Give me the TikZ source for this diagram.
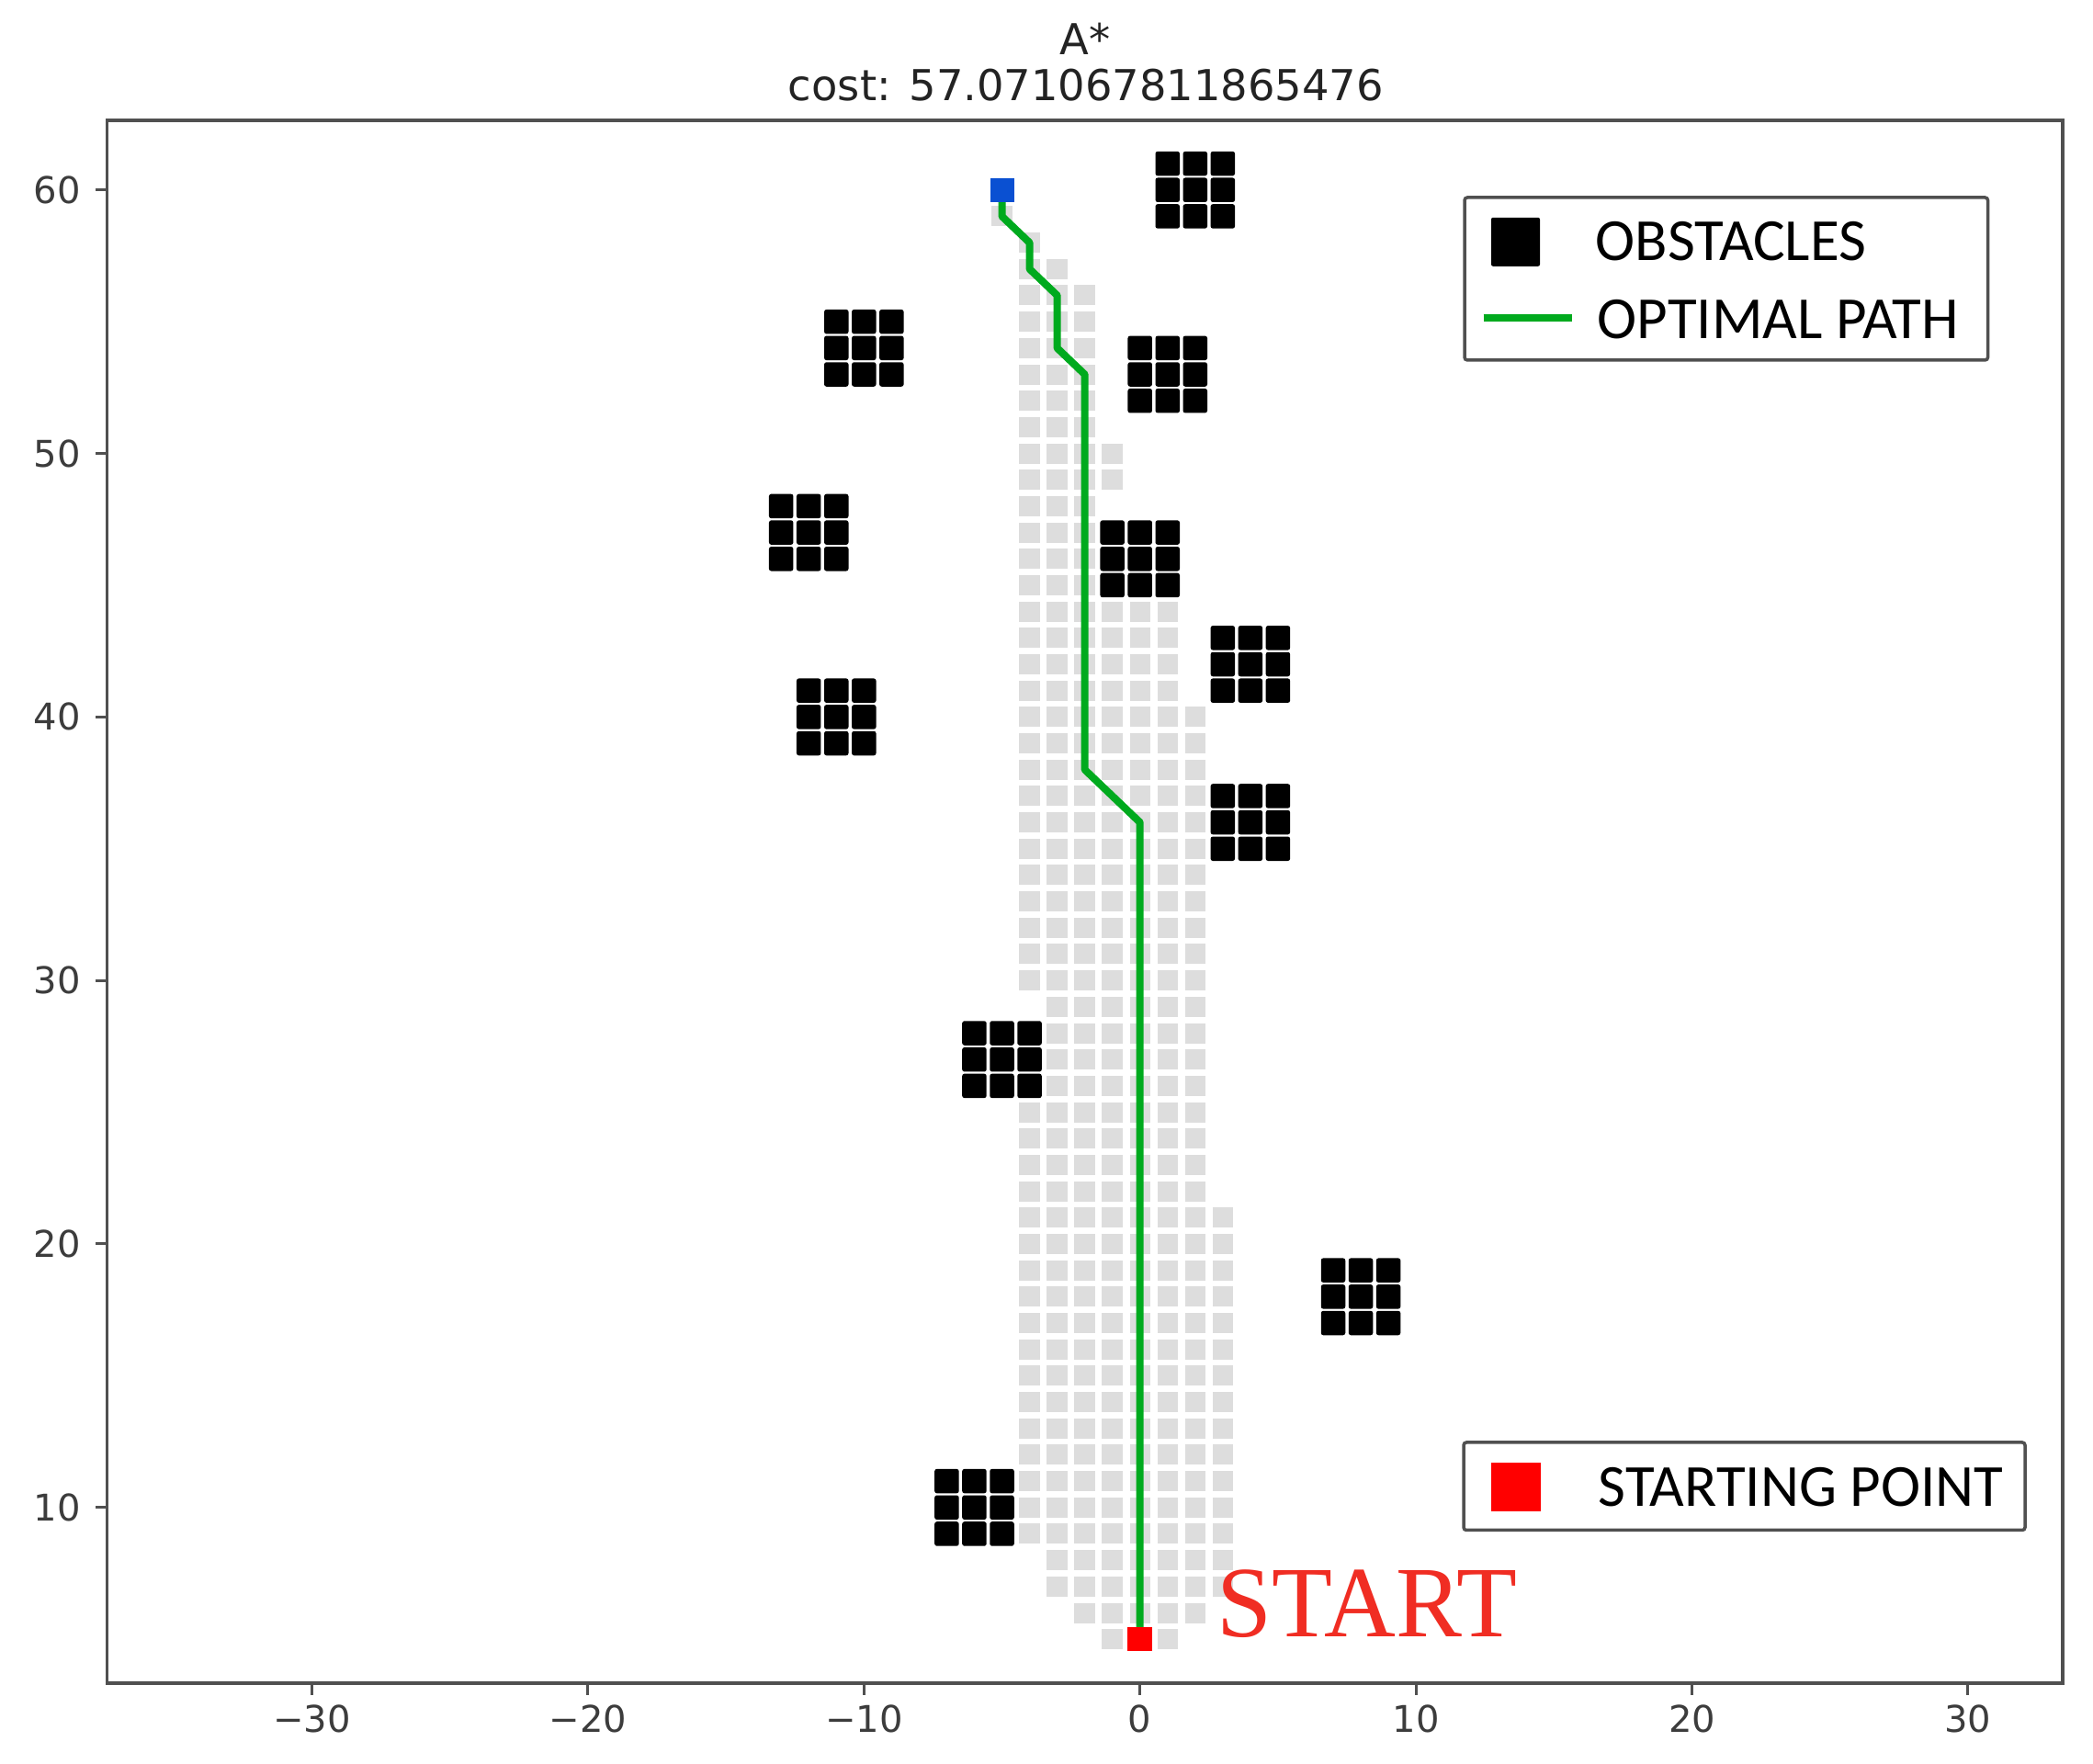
\documentclass[tikz,border=0pt]{standalone}
\usepackage{fontspec}
\setmainfont{DejaVu Sans}
\newfontfamily\legfont{Carlito}
\newfontfamily\startfont{Liberation Serif}
\definecolor{cellgray}{RGB}{221,221,221}
\definecolor{pathgreen}{RGB}{0,170,30}
\definecolor{goalblue}{RGB}{10,80,210}
\definecolor{startred}{RGB}{255,0,0}
\definecolor{labelred}{RGB}{240,45,35}
\definecolor{spinegray}{RGB}{80,80,80}
\definecolor{ticktext}{RGB}{60,60,60}
\definecolor{titletextc}{RGB}{35,35,35}
\tikzset{
  spine/.style={draw=spinegray, line width=0.035cm},
  tickmark/.style={draw=spinegray, line width=0.03cm},
  ticklabel/.style={text=ticktext, inner sep=0pt, font=\fontsize{11.4pt}{13pt}\selectfont},
  titlelabel/.style={text=titletextc, inner sep=0pt, font=\fontsize{13.2pt}{15pt}\selectfont},
  legendbox/.style={draw=spinegray, line width=0.035cm, fill=white, rounded corners=0.03cm},
  legendtext/.style={text=black, inner sep=0pt, anchor=west, font=\legfont\fontsize{18.5pt}{21pt}\selectfont},
}
\begin{document}
\begin{tikzpicture}
\useasboundingbox (0,0) rectangle (22.78,19.20);
\fill[white] (0,0) rectangle (22.78,19.20);

% ---- data area ----
\begin{scope}[shift={(12.407,-0.076)}, x=0.3004cm, y=0.2868cm]
  % explored cells
  \foreach \ya/\yb/\xa/\xb in {59/59/-5/-5, 58/58/-4/-4, 57/57/-4/-3, 51/56/-4/-2,
      49/50/-4/-1, 45/48/-4/-2, 41/44/-4/1, 30/40/-4/2, 26/29/-3/2, 22/25/-4/2,
      9/21/-4/3, 7/8/-3/3, 6/6/-2/2, 5/5/-1/1}{
    \foreach \yy in {\ya,...,\yb}{
      \foreach \xx in {\xa,...,\xb}{
        \fill[cellgray] (\xx,\yy) ++(-0.112cm,-0.11cm) rectangle ++(0.224cm,0.22cm);
      }
    }
  }
  % obstacles
  \foreach \cx/\cy in {2/60, -10/54, 1/53, -12/47, 0/46, 4/42, -11/40, 4/36, -5/27, 8/18, -6/10}{
    \foreach \ox in {-1,0,1}{
      \foreach \oy in {-1,0,1}{
        \fill[black, rounded corners=0.025cm] ({\cx+\ox},{\cy+\oy}) ++(-0.1325cm,-0.1325cm) rectangle ++(0.265cm,0.265cm);
      }
    }
  }
  % optimal path
  \draw[pathgreen, line width=0.08cm, line join=round, line cap=round]
    (-5,60) -- (-5,59) -- (-4,58) -- (-4,57) -- (-3,56) -- (-3,54) -- (-2,53)
    -- (-2,38) -- (0,36) -- (0,5);
  % goal and start markers
  \fill[goalblue] (-5,60) ++(-0.13cm,-0.13cm) rectangle ++(0.26cm,0.26cm);
  \fill[startred] (0,5) ++(-0.135cm,-0.13cm) rectangle ++(0.27cm,0.26cm);
\end{scope}

% ---- axes frame ----
\draw[spine] (1.167,0.88) rectangle (22.45,17.89);

% x ticks
\foreach \t/\lab [count=\i] in {-30/−30, -20/−20, -10/−10, 0/0, 10/10, 20/20, 30/30}{
  \draw[tickmark] ({12.407+0.3004*\t},0.88) -- ++(0,-0.13);
  \node[ticklabel, anchor=north] (xl\i) at ({12.407+0.3004*\t},0.645) {\lab};
}
% y ticks
\foreach \t [count=\i] in {10,20,30,40,50,60}{
  \draw[tickmark] (1.167,{-0.076+0.2868*\t}) -- ++(-0.13,0);
  \node[ticklabel, anchor=east] (yl\i) at (0.885,{-0.076+0.2868*\t}) {\t};
}

% ---- title ----
\node[titlelabel, anchor=base] (title1) at (11.81,18.60) {A*};
\node[titlelabel, anchor=base] (title2) at (11.82,18.10) {cost: 57.071067811865476};

% ---- legend: obstacles / path ----
\draw[legendbox] (15.94,15.28) rectangle (21.635,17.05);
\fill[black, rounded corners=0.02cm] (16.23,16.302) rectangle (16.76,16.832);
\node[legendtext] (legobs) at (17.36,16.57) {OBSTACLES};
\draw[pathgreen, line width=0.08cm] (16.147,15.743) -- (17.106,15.743);
\node[legendtext] (legpath) at (17.38,15.72) {OPTIMAL PATH};

% ---- legend: starting point ----
\draw[legendbox] (15.93,2.545) rectangle (22.04,3.50);
\fill[startred] (16.225,2.752) rectangle (16.765,3.282);
\node[legendtext] (legstart) at (17.39,3.01) {STARTING POINT};

% ---- START label ----
\node[anchor=base west, inner sep=0pt, text=labelred, font=\startfont\fontsize{31.3pt}{36pt}\selectfont] (startlab) at (13.24,1.38) {\scalebox{0.98}[1]{START}};
\end{tikzpicture}
\end{document}
